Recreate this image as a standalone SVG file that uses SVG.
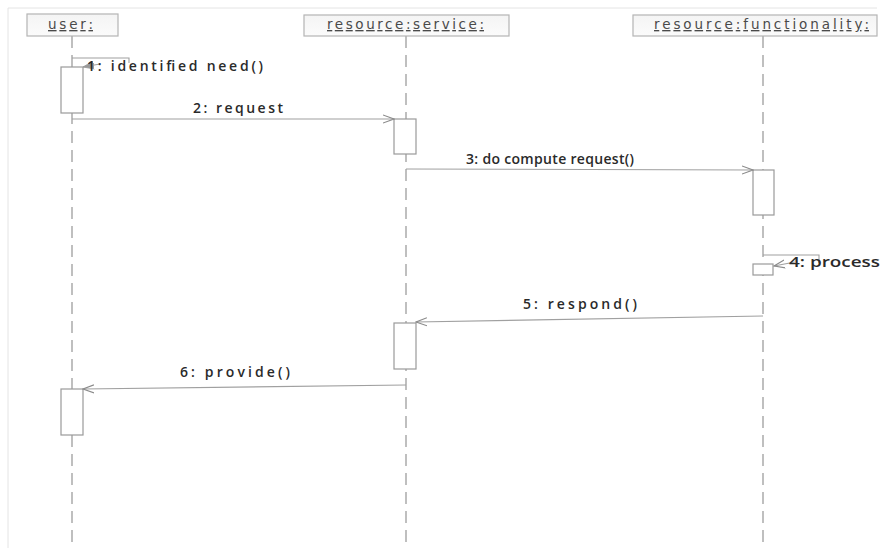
<svg xmlns="http://www.w3.org/2000/svg" width="881" height="548" viewBox="0 0 881 548">
<style>
.frame{stroke:#e4e4e4;stroke-width:1;fill:none}
.head{fill:url(#hg);stroke:#b4b4b4;stroke-width:1.2}
.htxt{font-family:"DejaVu Sans","Open Sans",sans-serif;font-size:13.5px;fill:#4a4a4a;text-decoration:underline}
.life{stroke:#b0b0b0;stroke-width:1.6;stroke-dasharray:12 7;fill:none}
.act{fill:#fff;stroke:#9a9a9a;stroke-width:1.2}
.msg{stroke:#a0a0a0;stroke-width:1.1;fill:none}
.lbl{font-family:"Open Sans","DejaVu Sans",sans-serif;font-size:14px;font-weight:600;fill:#2a2a2a}
</style>
<defs>
<linearGradient id="hg" x1="0" y1="0" x2="0" y2="1">
<stop offset="0" stop-color="#f4f4f4"/>
<stop offset="1" stop-color="#fbfbfb"/>
</linearGradient>
<marker id="open" markerWidth="12" markerHeight="10" refX="11" refY="5" orient="auto" markerUnits="userSpaceOnUse">
<path d="M0,1 L11,5 L0,9" fill="none" stroke="#8a8a8a" stroke-width="1.1"/>
</marker>
<marker id="fill" markerWidth="12" markerHeight="10" refX="11" refY="5" orient="auto" markerUnits="userSpaceOnUse">
<path d="M0,1 L11,5 L0,9 Z" fill="#999" stroke="#999" stroke-width="0.8"/>
</marker>
</defs>
<rect width="881" height="548" fill="#fff"/>
<path class="frame" d="M8,8 H877 M8,8 V548"/>

<g id="user">
<rect class="head" x="27" y="14" width="91" height="22"/>
<text class="htxt" x="48" y="29" textLength="45" lengthAdjust="spacing">user:</text>
<line class="life" x1="72" y1="36" x2="72" y2="548"/>
<rect class="act" x="61" y="67" width="22" height="46"/>
<rect class="act" x="61" y="389" width="22" height="46"/>
</g>

<g id="service">
<rect class="head" x="304" y="15" width="205" height="21"/>
<text class="htxt" x="327" y="29" textLength="157" lengthAdjust="spacing">resource:service:</text>
<line class="life" x1="406" y1="36" x2="406" y2="548"/>
<rect class="act" x="394" y="119" width="22" height="35"/>
<rect class="act" x="394" y="323" width="22" height="46"/>
</g>

<g id="functionality">
<rect class="head" x="633" y="15" width="244" height="21"/>
<text class="htxt" x="654" y="29" textLength="215" lengthAdjust="spacing">resource:functionality:</text>
<line class="life" x1="763" y1="36" x2="763" y2="548"/>
<rect class="act" x="753" y="170" width="21" height="45"/>
<rect class="act" x="753" y="264" width="20" height="11"/>
</g>

<g id="connectors">
<polyline class="msg" points="72,58 129,58 129,63" />
<line class="msg" x1="100" y1="64" x2="83" y2="67" marker-end="url(#fill)"/>
<line class="msg" x1="72" y1="119" x2="394" y2="119" marker-end="url(#open)"/>
<line class="msg" x1="406" y1="169" x2="753" y2="170" marker-end="url(#open)"/>
<polyline class="msg" points="763,255 819,255 819,263" />
<line class="msg" x1="795" y1="262" x2="774" y2="266" marker-end="url(#open)"/>
<line class="msg" x1="763" y1="316" x2="416" y2="322" marker-end="url(#open)"/>
<line class="msg" x1="406" y1="385" x2="83" y2="389" marker-end="url(#open)"/>
</g>

<g id="labels">
<text class="lbl" x="87" y="71" textLength="176" lengthAdjust="spacing">1: identified need()</text>
<text class="lbl" x="193" y="113" textLength="90" lengthAdjust="spacing">2: request</text>
<text class="lbl" x="466" y="164" textLength="168" lengthAdjust="spacing">3: do compute request()</text>
<text class="lbl" x="789" y="267" textLength="91" lengthAdjust="spacingAndGlyphs">4: process</text>
<text class="lbl" x="523" y="309" textLength="114" lengthAdjust="spacing">5: respond()</text>
<text class="lbl" x="180" y="377" textLength="110" lengthAdjust="spacing">6: provide()</text>
</g>
</svg>
